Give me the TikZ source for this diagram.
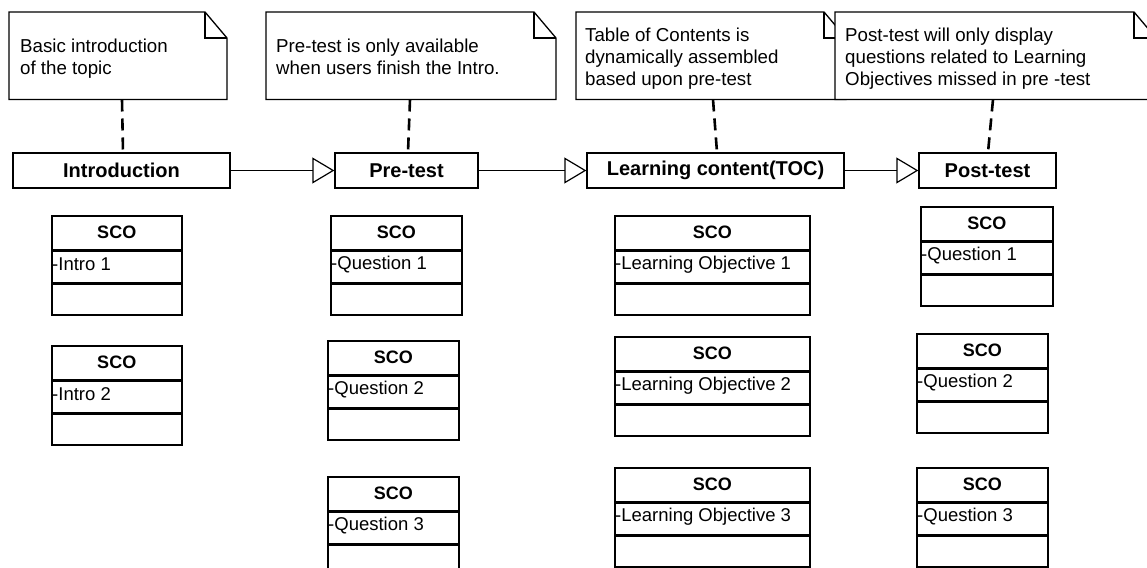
\documentclass[tikz,border=0pt]{standalone}
\usepackage{fontspec}
\setmainfont{Liberation Sans}
\usetikzlibrary{arrows.meta}
\newcommand\scobox[5]{%
  \node[scohead, minimum width=#4pt, anchor=north west] (#1h) at (#2,#3) {SCO};
  \node[scocell, minimum width=#4pt, anchor=north] (#1a) at (#1h.south) {};
  \node[scocell, minimum width=#4pt, anchor=north] (#1o) at (#1a.south) {};
  \node[scotext, anchor=west] (#1t) at ([xshift=1pt,yshift=2.5pt]#1a.west) {#5};
}
\newcommand\noteoutline[1]{%
  \draw[noteline] (#1.north west) -- ([xshift=-22pt]#1.north east) -- ([yshift=-26pt]#1.north east) -- (#1.south east) -- (#1.south west) -- cycle;
  \draw[noteline] ([xshift=-22pt]#1.north east) -- ([xshift=-22pt,yshift=-26pt]#1.north east) -- ([yshift=-26pt]#1.north east);
}
\begin{document}
\begin{tikzpicture}[x=1pt,y=-1pt,
  noteshape/.style={rectangle, inner sep=0pt, outer sep=0pt, minimum height=87.5pt, anchor=north west},
  noteline/.style={line width=1.3pt, line join=miter},
  notetext/.style={anchor=north west, inner sep=0pt, align=left, font=\fontsize{18.7}{22}\selectfont},
  hbox/.style={draw, line width=1.4pt, minimum height=35pt, inner sep=0pt, font=\bfseries\fontsize{20}{24}\selectfont},
  flow/.style={line width=1.2pt, -{Triangle[open, length=22pt, width=26pt]}},
  notelink/.style={line width=2.6pt, dash pattern=on 12pt off 7pt},
  scohead/.style={draw, line width=1.5pt, minimum height=34pt, inner sep=0pt, font=\bfseries\fontsize{18}{22}\selectfont},
  scocell/.style={draw, line width=1.5pt, minimum height=31pt, inner sep=0pt},
  scotext/.style={inner sep=0pt, font=\fontsize{18.5}{22}\selectfont}]
\useasboundingbox[fill=white] (0,0) rectangle (1147,567);

% notes
\node[noteshape, minimum width=218pt] (n1) at (9,12) {};
\noteoutline{n1}
\node[noteshape, minimum width=290pt] (n2) at (266,12) {};
\noteoutline{n2}
\node[noteshape, minimum width=270pt] (n3) at (576,12) {};
\noteoutline{n3}
\node[noteshape, minimum width=321pt, fill=white] (n4) at (835,12) {};
\noteoutline{n4}

\node[notetext] (t1) at (20,38.5) {Basic introduction\\of the topic};
\node[notetext] (t2) at (276,38.5) {Pre-test is only available\\when users finish the Intro.};
\node[notetext] (t3) at (585,27.5) {Table of Contents is\\dynamically assembled\\based upon pre-test};
\node[notetext] (t4) at (845,27.5) {Post-test will only display\\questions related to Learning\\Objectives missed in pre -test};

% header boxes
\node[hbox, minimum width=217pt] (h1) at (121.5,170.5) {Introduction};
\node[hbox, minimum width=143pt] (h2) at (406.5,170.5) {Pre-test};
\node[hbox, minimum width=257pt] (h3) at (715.5,170.5) {Learning content(TOC)};
\node[hbox, minimum width=137pt] (h4) at (987.5,170.5) {Post-test};

\draw[flow] (h1.east) -- (h2.west);
\draw[flow] (h2.east) -- (h3.west);
\draw[flow] (h3.east) -- (h4.west);

\draw[notelink] ([xshift=4pt]n1.south) -- ([xshift=1.5pt]h1.north);
\draw[notelink] ([xshift=-1pt]n2.south) -- ([xshift=1.5pt]h2.north);
\draw[notelink] ([xshift=2pt]n3.south) -- ([xshift=1.5pt]h3.north);
\draw[notelink] ([xshift=-2.5pt]n4.south) -- ([xshift=0.5pt]h4.north);

% SCO boxes
\scobox{i1}{51}{215}{130}{-Intro 1}
\scobox{i2}{51}{345}{130}{-Intro 2}
\scobox{p1}{330}{215}{131}{-Question 1}
\scobox{p2}{327}{340}{131}{-Question 2}
\scobox{p3}{327}{476}{131}{-Question 3}
\scobox{l1}{614}{215}{195}{-Learning Objective 1}
\scobox{l2}{614}{336}{195}{-Learning Objective 2}
\scobox{l3}{614}{467}{195}{-Learning Objective 3}
\scobox{q1}{920}{206}{132}{-Question 1}
\scobox{q2}{916}{333}{131}{-Question 2}
\scobox{q3}{916}{467}{131}{-Question 3}
\end{tikzpicture}
\end{document}
